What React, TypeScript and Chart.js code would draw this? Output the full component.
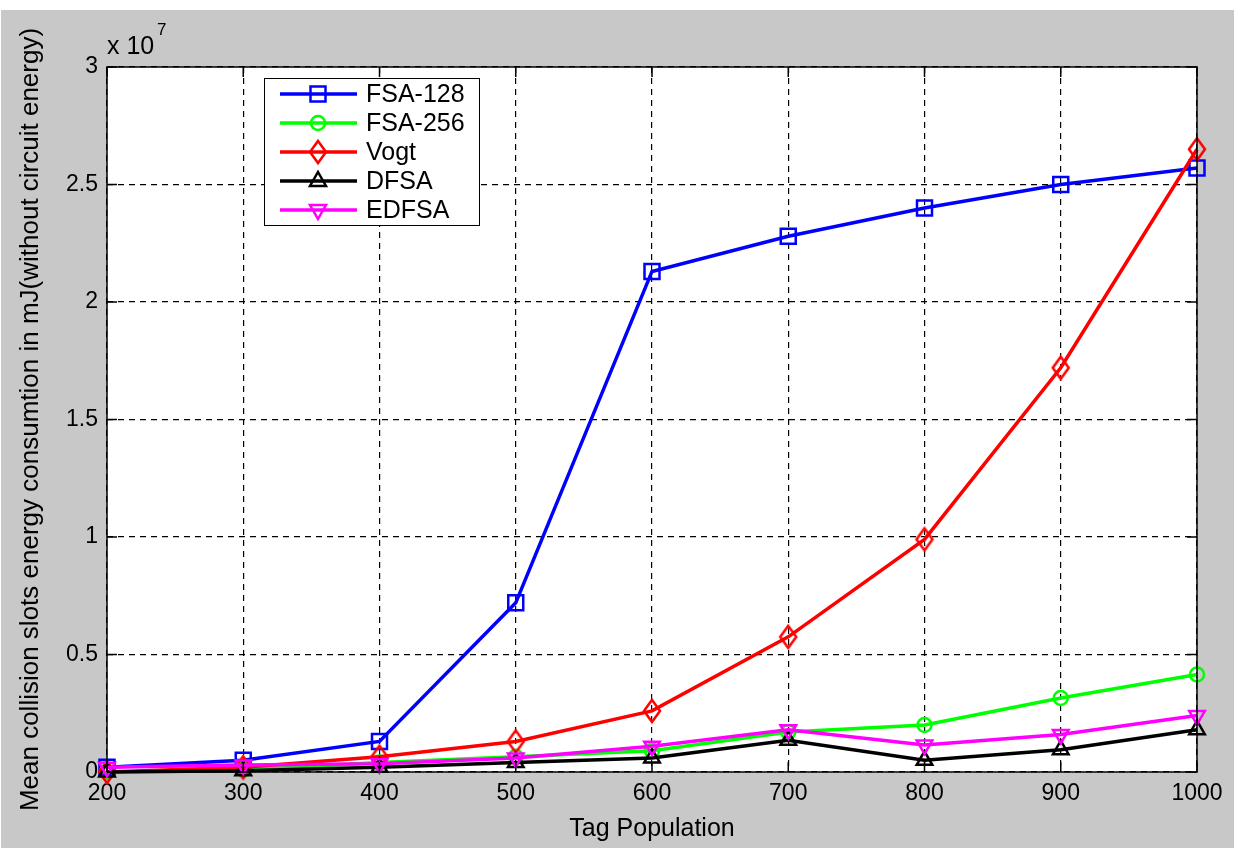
import React, { useEffect, useRef } from 'react';
import { Chart, registerables } from 'chart.js';

Chart.register(...registerables);

// values are in units of 10^7 mJ
const tagPopulation = [200, 300, 400, 500, 600, 700, 800, 900, 1000];
const fsa128 = [0.02, 0.05, 0.13, 0.72, 2.13, 2.28, 2.40, 2.50, 2.57];
const fsa256 = [0.0, 0.01, 0.04, 0.065, 0.09, 0.17, 0.20, 0.315, 0.415];
const vogt = [0.0, 0.02, 0.065, 0.13, 0.26, 0.575, 0.99, 1.72, 2.65];
const dfsa = [0.0, 0.005, 0.02, 0.04, 0.06, 0.135, 0.05, 0.095, 0.18];
const edfsa = [0.02, 0.03, 0.035, 0.06, 0.11, 0.18, 0.115, 0.16, 0.24];

const seriesNames = ['FSA-128', 'FSA-256', 'Vogt', 'DFSA', 'EDFSA'];
const seriesColors = ['#0000ff', '#00ff00', '#ff0000', '#000000', '#ff00ff'];
const seriesMarkers = ['square', 'circle', 'diamond', 'triUp', 'triDown'];

const FONT = '"Liberation Sans", Arial, sans-serif';

const drawMarker = (ctx, kind, x, y, color) => {
    ctx.save();
    ctx.strokeStyle = color;
    ctx.lineWidth = 2.5;
    ctx.beginPath();
    if (kind === 'square') {
        ctx.rect(x - 7.5, y - 7.5, 15, 15);
    } else if (kind === 'circle') {
        ctx.arc(x, y, 7, 0, Math.PI * 2);
    } else if (kind === 'diamond') {
        ctx.moveTo(x, y - 11);
        ctx.lineTo(x + 8, y);
        ctx.lineTo(x, y + 11);
        ctx.lineTo(x - 8, y);
        ctx.closePath();
    } else if (kind === 'triUp') {
        ctx.moveTo(x, y - 9);
        ctx.lineTo(x + 8, y + 5);
        ctx.lineTo(x - 8, y + 5);
        ctx.closePath();
    } else {
        ctx.moveTo(x, y + 9);
        ctx.lineTo(x + 8, y - 5);
        ctx.lineTo(x - 8, y - 5);
        ctx.closePath();
    }
    ctx.stroke();
    ctx.restore();
};

const makeDiamond = () => {
    const c = document.createElement('canvas');
    c.width = 22;
    c.height = 28;
    const ctx = c.getContext('2d');
    drawMarker(ctx, 'diamond', 11, 14, '#ff0000');
    return c;
};

const matlabLook = {
    id: 'matlabLook',
    beforeDraw(chart) {
        const { ctx, chartArea: a } = chart;
        ctx.save();
        ctx.fillStyle = '#ffffff';
        ctx.fillRect(0, 0, chart.width, chart.height);
        ctx.fillStyle = '#c8c8c8';
        ctx.fillRect(1, 10, chart.width - 1, chart.height - 10);
        ctx.fillStyle = '#ffffff';
        ctx.fillRect(a.left, a.top, a.right - a.left, a.bottom - a.top);
        ctx.restore();
    },
    afterDraw(chart) {
        const { ctx, chartArea: a, scales } = chart;
        ctx.save();
        ctx.strokeStyle = '#000';
        ctx.lineWidth = 1.5;
        // inner tick marks
        ctx.beginPath();
        scales.x.ticks.forEach((t) => {
            const px = scales.x.getPixelForValue(t.value);
            ctx.moveTo(px, a.bottom);
            ctx.lineTo(px, a.bottom - 10);
            ctx.moveTo(px, a.top);
            ctx.lineTo(px, a.top + 10);
        });
        scales.y.ticks.forEach((t) => {
            const py = scales.y.getPixelForValue(t.value);
            ctx.moveTo(a.left, py);
            ctx.lineTo(a.left + 10, py);
            ctx.moveTo(a.right, py);
            ctx.lineTo(a.right - 10, py);
        });
        ctx.stroke();
        ctx.strokeRect(a.left, a.top, a.right - a.left, a.bottom - a.top);

        // exponent label
        ctx.fillStyle = '#000';
        ctx.textBaseline = 'alphabetic';
        ctx.font = `25px ${FONT}`;
        ctx.fillText('x 10', a.left, 54);
        ctx.font = `17px ${FONT}`;
        ctx.fillText('7', a.left + 50, 35);

        // legend
        const lx = 264, ly = 78, lw = 215, lh = 147;
        ctx.fillStyle = '#fff';
        ctx.fillRect(lx, ly, lw, lh);
        ctx.lineWidth = 1;
        ctx.strokeRect(lx + 0.5, ly + 0.5, lw, lh);
        seriesNames.forEach((name, i) => {
            const y = 94 + i * 29;
            ctx.strokeStyle = seriesColors[i];
            ctx.lineWidth = 3.5;
            ctx.beginPath();
            ctx.moveTo(280, y);
            ctx.lineTo(357, y);
            ctx.stroke();
            drawMarker(ctx, seriesMarkers[i], 318, y, seriesColors[i]);
            ctx.fillStyle = '#000';
            ctx.font = `25px ${FONT}`;
            ctx.textBaseline = 'middle';
            ctx.fillText(name, 366, y + 1);
        });
        ctx.restore();
    }
};

export default function App() {
    const chartRef = useRef(null);

    useEffect(() => {
        const diamond = makeDiamond();
        const allSeries = [fsa128, fsa256, vogt, dfsa, edfsa];
        const pointStyles = ['rect', 'circle', diamond, 'triangle', 'triangle'];
        const radii = [10.6, 7, 11, 9, 9];

        const chart = new Chart(chartRef.current, {
            type: 'line',
            data: {
                datasets: allSeries.map((values, i) => ({
                    label: seriesNames[i],
                    data: tagPopulation.map((x, j) => ({ x, y: values[j] })),
                    borderColor: seriesColors[i],
                    backgroundColor: 'transparent',
                    borderWidth: 3.5,
                    tension: 0,
                    pointStyle: pointStyles[i],
                    pointRadius: radii[i],
                    pointRotation: i === 4 ? 180 : 0,
                    pointBorderColor: seriesColors[i],
                    pointBackgroundColor: 'transparent',
                    pointBorderWidth: 2.5,
                    clip: false,
                    order: 5 - i
                }))
            },
            options: {
                responsive: false,
                animation: false,
                events: [],
                layout: {
                    padding: { top: 67, right: 37, bottom: 0, left: 0 }
                },
                plugins: {
                    legend: { display: false },
                    tooltip: { enabled: false }
                },
                scales: {
                    x: {
                        type: 'linear',
                        min: 200,
                        max: 1000,
                        afterFit: (scale) => { scale.height = 76; },
                        ticks: {
                            stepSize: 100,
                            padding: 8,
                            color: '#000',
                            font: { family: FONT, size: 23 },
                            callback: (v) => String(v)
                        },
                        grid: { color: '#000', lineWidth: 1.2, drawTicks: false },
                        border: { display: false, dash: [6, 5] },
                        title: {
                            display: true,
                            text: 'Tag Population',
                            color: '#000',
                            font: { family: FONT, size: 25 },
                            padding: { top: 0, bottom: 4 }
                        }
                    },
                    y: {
                        min: 0,
                        max: 3,
                        afterFit: (scale) => { scale.width = 107; },
                        ticks: {
                            stepSize: 0.5,
                            padding: 9,
                            color: '#000',
                            font: { family: FONT, size: 23 },
                            callback: (v) => String(v)
                        },
                        grid: { color: '#000', lineWidth: 1.2, drawTicks: false },
                        border: { display: false, dash: [6, 5] },
                        title: {
                            display: true,
                            text: 'Mean collision slots energy consumtion in mJ(without circuit energy)',
                            color: '#000',
                            font: { family: FONT, size: 26 },
                            padding: { top: 15, bottom: 0 }
                        }
                    }
                }
            },
            plugins: [matlabLook]
        });

        return () => {
            chart.destroy();
        };
    }, []);

    return (
        <div style={{ position: 'absolute', left: 0, top: 0, width: 1234, height: 848 }}>
            <canvas ref={chartRef} width={1234} height={848} style={{ width: 1234, height: 848 }} />
        </div>
    );
}
